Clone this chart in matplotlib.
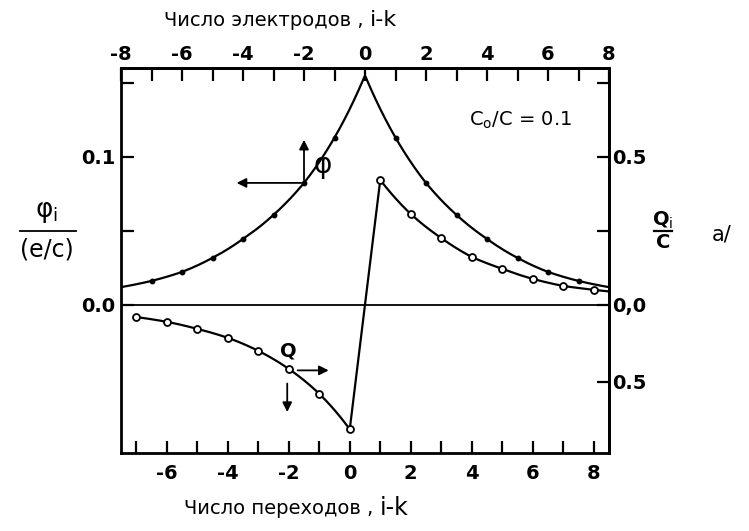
import numpy as np
import matplotlib.pyplot as plt
from matplotlib.lines import Line2D

# potential on electrodes (top axis, i-k), units of e/c
electrodes = np.arange(-8, 9)
phi = [0.012, 0.0162, 0.0223, 0.0318, 0.0446, 0.0608, 0.0824, 0.113, 0.155,
       0.113, 0.0824, 0.0608, 0.0446, 0.0318, 0.0223, 0.0162, 0.012]

# charge on transitions (bottom axis, i-k), units of C
transitions = np.arange(-7, 9)
Q = [-0.041, -0.057, -0.081, -0.111, -0.155, -0.216, -0.300, -0.420,
     0.422, 0.307, 0.226, 0.162, 0.122, 0.088, 0.064, 0.051]

top_ticks = np.arange(-8, 9)
bottom_ticks = np.arange(-7, 9)
left_ticks = [0.15, 0.1, 0.05, 0.0]
left_labels = ['', '0.1', '', '0.0']
right_ticks = [0.75, 0.5, 0.25, 0.0, -0.26]
right_labels = ['', '0.5', '', '0,0', '0.5']

Q_SCALE = 5.0      # Q/C per unit of phi on the shared vertical scale
SHIFT = 0.5        # electrode i sits half a step left of transition i


def expcurve(x, y, xs):
    # log-linear between points, last segment carried on past the end
    x = np.asarray(x, float)
    ly = np.log(np.abs(y))
    out = np.interp(xs, x, ly)
    k = (ly[-1] - ly[-2]) / (x[-1] - x[-2])
    out = np.where(xs > x[-1], ly[-1] + k * (xs - x[-1]), out)
    return np.sign(y[0]) * np.exp(out)


plt.rcParams['font.family'] = 'DejaVu Sans'
fig = plt.figure(figsize=(7.49, 5.31), dpi=100)
W, H = 749.0, 531.0


def fxy(x, y):
    return x / W, 1 - y / H


ax = fig.add_axes([121 / W, 1 - 453 / H, 488 / W, 385 / H])
ax.set_xlim(-7.5, 8.5)
ax.set_ylim(-0.1, 0.16)

for s in ax.spines.values():
    s.set_linewidth(2.0)

ax.axhline(0, color='k', lw=1.3)

# phi curve
xe = electrodes + SHIFT
xs = np.linspace(xe[0], xe[-1], 600)
ax.plot(xs, expcurve(xe, phi, xs), color='k', lw=1.6)
pm = (np.abs(electrodes) >= 1) & (np.abs(electrodes) <= 7)
ax.plot(xe[pm], np.array(phi)[pm], 'o', ms=3.2, color='k')

# Q curve: left branch, jump between 0 and 1, right branch
qt = np.asarray(transitions)
qv = np.asarray(Q)
neg = qt <= 0
pos = qt >= 1
xl = np.linspace(qt[neg][0], qt[neg][-1], 300)
xr = np.linspace(qt[pos][0], 8.5, 300)
qx = np.concatenate([xl, xr])
qy = np.concatenate([expcurve(qt[neg], qv[neg], xl),
                     expcurve(qt[pos], qv[pos], xr)])
ax.plot(qx, qy / Q_SCALE, color='k', lw=1.6)
ax.plot(qt, qv / Q_SCALE, 'o', ms=5, mfc='white', mec='k', mew=1.3)

# axes ticks
ax.set_xticks(bottom_ticks)
ax.set_xticklabels([str(t) if t % 2 == 0 else '' for t in bottom_ticks])
ax.set_yticks(left_ticks)
ax.set_yticklabels(left_labels)
ax.tick_params(axis='both', direction='in', length=9, width=1.6,
               labelsize=14)
ax.tick_params(axis='x', pad=8)
ax.tick_params(axis='y', pad=4)
for lab in ax.get_xticklabels() + ax.get_yticklabels():
    lab.set_fontweight('bold')

top = ax.secondary_xaxis('top', functions=(lambda b: b - SHIFT,
                                           lambda t: t + SHIFT))
top.set_xticks(top_ticks)
top.set_xticklabels([str(t) if t % 2 == 0 else '' for t in top_ticks])
top.tick_params(direction='in', length=9, width=1.6, labelsize=14, pad=3)
top.spines['top'].set_linewidth(2.0)
for lab in top.get_xticklabels():
    lab.set_fontweight('bold')

right = ax.secondary_yaxis('right', functions=(lambda p: p * Q_SCALE,
                                               lambda q: q / Q_SCALE))
right.set_yticks(right_ticks)
right.set_yticklabels(right_labels)
right.tick_params(direction='in', length=9, width=1.6, labelsize=14, pad=2)
right.spines['right'].set_linewidth(2.0)
for lab in right.get_yticklabels():
    lab.set_fontweight('bold')

# arrows and curve names
arw = dict(arrowstyle='-|>', color='k', lw=1.3, mutation_scale=14)
p0 = (-2 + SHIFT, phi[6])
ax.annotate('', xy=(p0[0] - 2.3, p0[1]), xytext=p0, arrowprops=arw)
ax.annotate('', xy=(p0[0], p0[1] + 0.031), xytext=p0, arrowprops=arw)
ax.text(p0[0] + 0.6, p0[1] + 0.012, 'φ', fontsize=20, ha='center',
        va='center')

q0 = (-2, Q[5] / Q_SCALE)
ax.annotate('', xy=(q0[0] + 1.4, q0[1] - 0.001),
            xytext=(q0[0] + 0.2, q0[1] - 0.001), arrowprops=arw)
ax.annotate('', xy=(q0[0] - 0.05, q0[1] - 0.031),
            xytext=(q0[0] - 0.05, q0[1] - 0.008), arrowprops=arw)
ax.text(q0[0], q0[1] + 0.012, 'Q', fontsize=14, fontweight='bold',
        ha='center', va='center')

fig.text(*fxy(520, 120), 'C$_\\mathrm{o}$/C = 0.1', fontsize=14,
         ha='center', va='center')

# axis titles
fig.text(*fxy(370, 20), 'Число электродов , ', fontsize=14, ha='right',
         va='center')
fig.text(*fxy(370, 20), 'i-k', fontsize=16, ha='left', va='center')
fig.text(*fxy(380, 508), 'Число переходов , ', fontsize=14, ha='right',
         va='center')
fig.text(*fxy(380, 508), 'i-k', fontsize=17, ha='left', va='center')

fig.text(*fxy(47, 212), 'φ$_\\mathrm{i}$', fontsize=19, ha='center',
         va='center')
fig.add_artist(Line2D([20 / W, 76 / W], [1 - 231 / H, 1 - 231 / H],
                      color='k', lw=1.3))
fig.text(*fxy(47, 250), '(e/c)', fontsize=17, ha='center', va='center')

fig.text(*fxy(663, 220), 'Q$_\\mathrm{i}$', fontsize=14, fontweight='bold',
         ha='center', va='center')
fig.add_artist(Line2D([654 / W, 672 / W], [1 - 231 / H, 1 - 231 / H],
                      color='k', lw=1.6))
fig.text(*fxy(663, 243), 'C', fontsize=14, fontweight='bold', ha='center',
         va='center')
fig.text(*fxy(722, 235), 'a/', fontsize=15, ha='center', va='center')

fig.savefig('out.png', dpi=100)
